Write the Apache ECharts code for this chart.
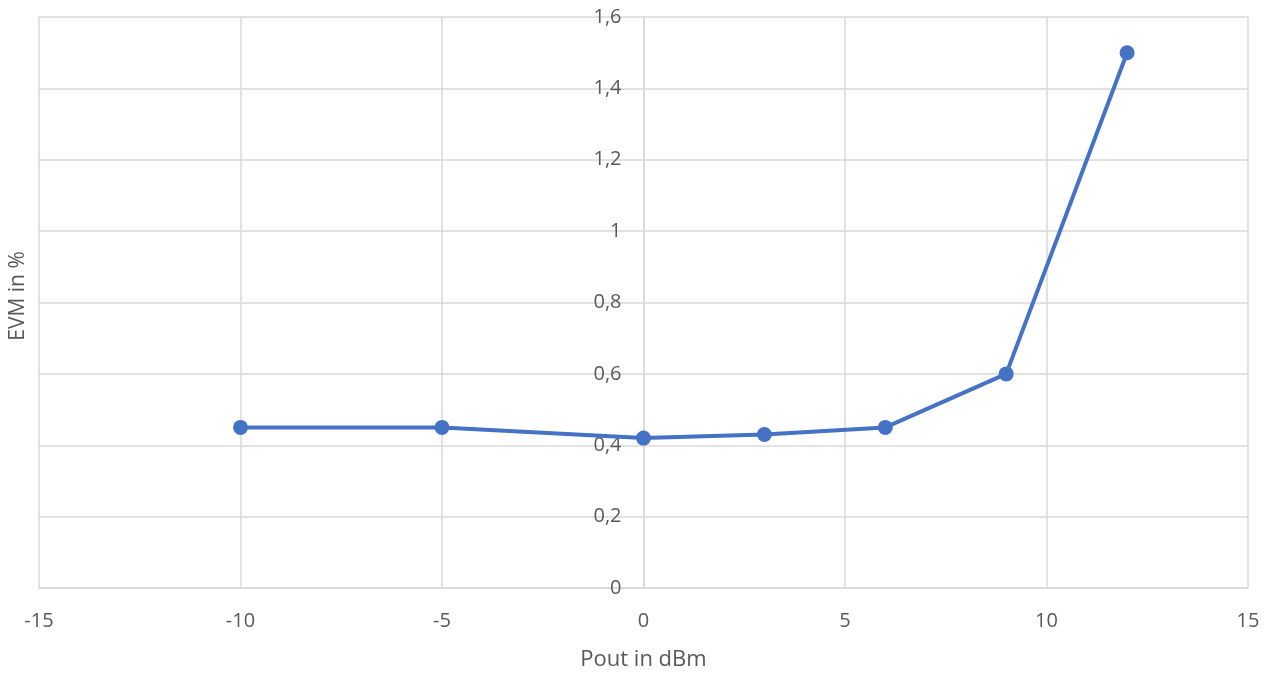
<!DOCTYPE html>
<html><head><meta charset="utf-8">
<script src="https://cdn.jsdelivr.net/npm/echarts@6/dist/echarts.min.js"></script>
<style>html,body{margin:0;padding:0;background:#fff}#c{width:1272px;height:675px}</style>
</head><body><div id="c"></div>
<script>
const pout = [-10, -5, 0, 3, 6, 9, 12];
const evm = [0.45, 0.45, 0.42, 0.43, 0.45, 0.60, 1.50];
const xTitle = 'Pout in dBm';
const yTitle = 'EVM in %';

const W = 1272, GL = 39, GR = 24;
const xMin = -15, xMax = 15;
// y axis crosses at x = 0: shift it right by that fraction of the plot width
const yAxisOffset = -((0 - xMin) / (xMax - xMin)) * (W - GL - GR);

const chart = echarts.init(document.getElementById('c'), null, {renderer: 'canvas'});
const font = '"Open Sans", "Noto Sans", sans-serif';
chart.setOption({
  animation: false,
  backgroundColor: '#fff',
  grid: {left: GL, right: GR, top: 17, bottom: 87, containLabel: false, outerBoundsMode: 'none'},
  xAxis: {
    type: 'value', min: xMin, max: xMax, interval: 5,
    name: xTitle, nameLocation: 'middle', nameGap: 61,
    nameTextStyle: {color: '#595959', fontSize: 22, fontFamily: font},
    axisLine: {show: true, onZero: false, lineStyle: {color: '#d9d9d9', width: 1.5}},
    axisTick: {show: false},
    axisLabel: {color: '#595959', fontSize: 20, fontFamily: font, margin: 23},
    splitLine: {show: true, lineStyle: {color: '#d9d9d9', width: 1.5}}
  },
  yAxis: {
    type: 'value', min: 0, max: 1.6, interval: 0.2,
    offset: yAxisOffset,
    axisLine: {show: true, onZero: false, lineStyle: {color: '#d9d9d9', width: 1.5}},
    axisTick: {show: false},
    axisLabel: {color: '#595959', fontSize: 20, fontFamily: font, margin: 22,
      formatter: v => String(Math.round(v * 10) / 10).replace('.', ',')},
    splitLine: {show: true, lineStyle: {color: '#d9d9d9', width: 1.5}}
  },
  series: [{
    type: 'line',
    data: pout.map((x, i) => [x, evm[i]]),
    symbol: 'circle', symbolSize: 15,
    lineStyle: {color: '#4472C4', width: 4},
    itemStyle: {color: '#4472C4'}
  }],
  graphic: [{
    type: 'text', x: 18, y: 296, rotation: Math.PI / 2,
    style: {text: yTitle, fill: '#595959', font: '21px ' + font, align: 'center', verticalAlign: 'middle'}
  }]
});
</script></body></html>
